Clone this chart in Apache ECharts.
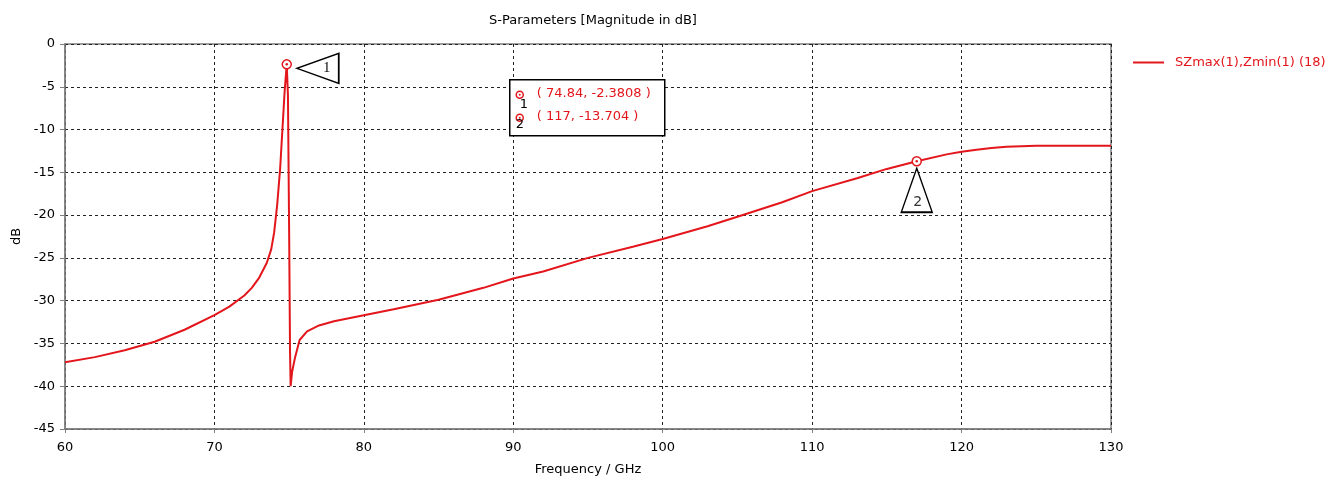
<!DOCTYPE html>
<html><head><meta charset="utf-8">
<script src="https://cdn.jsdelivr.net/npm/echarts@6/dist/echarts.min.js"></script>
<style>html,body{margin:0;padding:0;background:#fff}#c{width:1344px;height:481px}</style>
</head><body><div id="c"></div>
<script>
var freq = [60,62,64,66,68,70,71,72,72.5,73,73.5,73.8,74,74.2,74.4,74.5,74.6,74.7,74.84,74.92,75.0,75.06,75.1,75.2,75.4,75.7,76.2,77,78,80,82,85,88,90,92,95,98,100,103,105,108,110,113,115,117,119,120,121,122,123,124,125,127,130];
var sdb  = [-37.2,-36.6,-35.8,-34.8,-33.4,-31.7,-30.7,-29.4,-28.5,-27.3,-25.6,-24.0,-22.0,-18.8,-14.5,-11.5,-8.5,-5.5,-2.3808,-6,-22,-36,-40,-38.3,-36.6,-34.6,-33.6,-32.9,-32.4,-31.7,-31.0,-29.9,-28.5,-27.4,-26.6,-25.0,-23.7,-22.8,-21.3,-20.2,-18.5,-17.2,-15.7,-14.6,-13.704,-12.9,-12.6,-12.35,-12.15,-12.0,-11.95,-11.9,-11.9,-11.9];
var seriesName = 'SZmax(1),Zmin(1) (18)';
var markers = [{id:'1', x:74.84, y:-2.3808, text:'( 74.84, -2.3808 )'}, {id:'2', x:117, y:-13.704, text:'( 117, -13.704 )'}];
var xTicks = {min:60, max:130, interval:10};
var yTicks = {min:-45, max:0, interval:5};

var RED = '#e3161c';
var FONT = 'DejaVu Sans';
var chart = echarts.init(document.getElementById('c'));
var data = freq.map(function(f,i){return [f, sdb[i]];});

var mp = [];
markers.forEach(function(m){
  mp.push({coord:[m.x,m.y], symbol:'circle', symbolSize:9, itemStyle:{color:'#fff', borderColor:RED, borderWidth:1.5}, label:{show:false}});
  mp.push({coord:[m.x,m.y], symbol:'circle', symbolSize:2.5, itemStyle:{color:RED}, label:{show:false}});
});
mp.push({coord:[markers[0].x, markers[0].y], symbol:'path://M0,15L42,0L42,30Z', symbolSize:[42,30], symbolKeepAspect:false, symbolOffset:[31,4],
  itemStyle:{color:'#fff', borderColor:'#000', borderWidth:1.5},
  label:{show:true, formatter:markers[0].id, position:'inside', offset:[9,0], color:'#000', fontFamily:'Liberation Serif', fontSize:14}});
mp.push({coord:[markers[1].x, markers[1].y], symbol:'path://M15,0L30,43L0,43Z', symbolSize:[31,44], symbolKeepAspect:false, symbolOffset:[0,29],
  itemStyle:{color:'#fff', borderColor:'#000', borderWidth:1.5},
  label:{show:true, formatter:markers[1].id, position:'inside', offset:[1,12], color:'#333', fontFamily:FONT, fontSize:14}});

var option = {
  animation:false,
  backgroundColor:'#fff',
  title:{text:'S-Parameters [Magnitude in dB]', left:588, top:9, textAlign:'center',
    textStyle:{fontFamily:FONT, fontSize:13, fontWeight:'normal', color:'#000'}},
  legend:{left:1128, top:51, icon:'rect', itemWidth:31, itemHeight:2, itemGap:0,
    textStyle:{fontFamily:FONT, fontSize:13, color:RED, padding:[0,0,0,6]},
    data:[seriesName]},
  grid:{left:65, right:233, top:44, bottom:51, show:true, borderColor:'#7f7f7f', borderWidth:1.5, backgroundColor:'transparent'},
  xAxis:{type:'value', min:xTicks.min, max:xTicks.max, interval:xTicks.interval,
    name:'Frequency / GHz', nameLocation:'middle', nameGap:34,
    nameTextStyle:{fontFamily:FONT, fontSize:13, color:'#000'},
    axisLine:{show:true, onZero:false, lineStyle:{color:'#7f7f7f', width:1.5}},
    axisTick:{show:true, length:4, lineStyle:{color:'#7f7f7f'}},
    axisLabel:{fontFamily:FONT, fontSize:13, color:'#000', margin:12},
    splitLine:{show:true, lineStyle:{color:'#222', type:[3,3], width:1}}},
  yAxis:{type:'value', min:yTicks.min, max:yTicks.max, interval:yTicks.interval,
    name:'dB', nameLocation:'middle', nameGap:38, nameRotate:90,
    nameTextStyle:{fontFamily:FONT, fontSize:13, color:'#000'},
    axisLine:{show:true, onZero:false, lineStyle:{color:'#7f7f7f', width:1.5}},
    axisTick:{show:true, length:5, lineStyle:{color:'#7f7f7f'}},
    axisLabel:{fontFamily:FONT, fontSize:13, color:'#000', margin:10},
    splitLine:{show:true, lineStyle:{color:'#222', type:[3,3], width:1}}},
  series:[{name:seriesName, type:'line', data:data, symbol:'none', smooth:false,
    lineStyle:{color:RED, width:2}, itemStyle:{color:RED},
    markPoint:{silent:true, data:mp}}],
  graphic:[
    {type:'group', left:509, top:79, z:100, children:[
      {type:'rect', z:100, shape:{x:0,y:0,width:155,height:56}, style:{fill:'#fff', stroke:'#000', lineWidth:1.5}},
      {type:'circle', z:101, shape:{cx:10,cy:15,r:3.5}, style:{fill:'#fff', stroke:RED, lineWidth:1.5}},
      {type:'circle', z:101, shape:{cx:10,cy:15,r:1}, style:{fill:RED}},
      {type:'text', z:101, x:10, y:18, style:{text:markers[0].id, fill:'#000', font:'13px '+FONT}},
      {type:'text', z:101, x:27, y:7, style:{text:markers[0].text, fill:RED, font:'13px '+FONT}},
      {type:'circle', z:101, shape:{cx:10,cy:38,r:3.5}, style:{fill:'#fff', stroke:RED, lineWidth:1.5}},
      {type:'circle', z:101, shape:{cx:10,cy:38,r:1}, style:{fill:RED}},
      {type:'text', z:101, x:6, y:38, style:{text:markers[1].id, fill:'#000', font:'13px '+FONT}},
      {type:'text', z:101, x:27, y:30, style:{text:markers[1].text, fill:RED, font:'13px '+FONT}}
    ]}
  ]
};
chart.setOption(option);
</script></body></html>
